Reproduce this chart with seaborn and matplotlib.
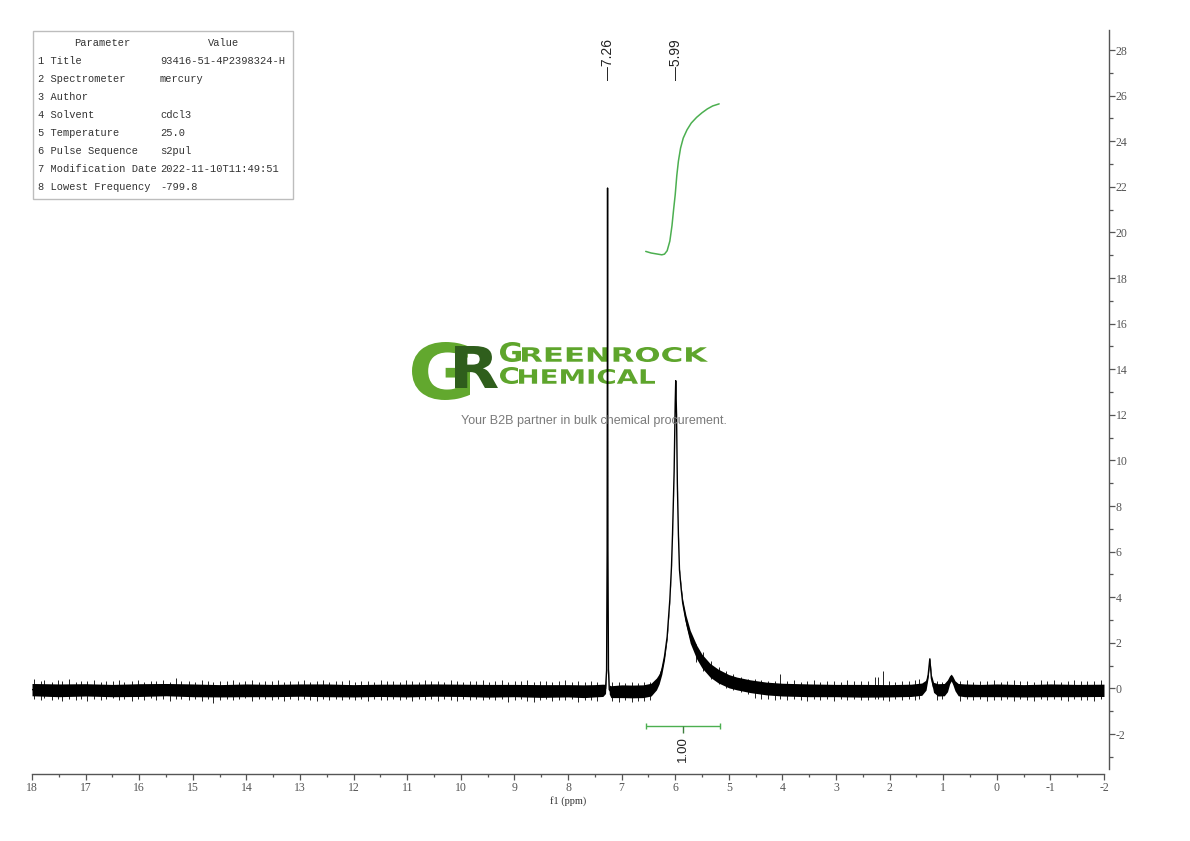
import matplotlib
matplotlib.use("Agg")
import matplotlib.pyplot as plt
from matplotlib.patches import Rectangle, PathPatch
from matplotlib.textpath import TextPath
from matplotlib.font_manager import FontProperties
from matplotlib.transforms import IdentityTransform, Affine2D
from matplotlib.ticker import MultipleLocator, FormatStrFormatter
import pandas as pd
import seaborn as sns

W, H = 1190, 841

# spectrum trace (ppm, centre intensity, half width of the noise band)
spec_ppm = [18.00, 17.50, 17.00, 16.50, 16.00, 15.50, 15.00, 14.50, 14.00, 13.50,
            13.00, 12.50, 12.00, 11.50, 11.00, 10.50, 10.00, 9.50, 9.00, 8.50,
            8.00, 7.70, 7.50, 7.35, 7.30, 7.28, 7.27, 7.262, 7.255, 7.245,
            7.23, 7.20, 7.00, 6.80, 6.60, 6.45, 6.35, 6.30, 6.25, 6.20,
            6.15, 6.10, 6.07, 6.05, 6.02, 6.00, 5.99, 5.975, 5.96, 5.94,
            5.92, 5.89, 5.86, 5.80, 5.72, 5.60, 5.50, 5.35, 5.20, 5.00,
            4.85, 4.60, 4.30, 4.00, 3.50, 3.00, 2.50, 2.00, 1.60, 1.40,
            1.32, 1.28, 1.25, 1.22, 1.18, 1.10, 0.98, 0.92, 0.88, 0.85,
            0.82, 0.78, 0.72, 0.60, 0.30, 0.00, -0.50, -1.00, -1.50, -2.00]
spec_y = [-0.05, -0.08, -0.06, -0.09, -0.07, -0.05, -0.08, -0.10, -0.08, -0.09,
          -0.07, -0.08, -0.10, -0.08, -0.09, -0.07, -0.08, -0.10, -0.09, -0.11,
          -0.10, -0.12, -0.10, -0.08, -0.02, 0.80, 6.00, 21.95, 6.00, 0.80,
          -0.05, -0.14, -0.12, -0.13, -0.12, -0.05, 0.20, 0.42, 0.80, 1.40,
          2.27, 3.90, 5.30, 6.75, 9.50, 12.50, 13.50, 12.00, 9.00, 6.75,
          5.20, 4.40, 3.75, 3.00, 2.27, 1.60, 1.20, 0.80, 0.55, 0.32,
          0.22, 0.10, 0.00, -0.05, -0.08, -0.09, -0.10, -0.10, -0.08, -0.03,
          0.15, 0.60, 1.30, 0.45, 0.05, -0.06, -0.05, 0.12, 0.38, 0.48,
          0.35, 0.12, -0.05, -0.08, -0.09, -0.08, -0.10, -0.08, -0.09, -0.08]
spec_hw = [0.27, 0.28, 0.27, 0.27, 0.28, 0.27, 0.28, 0.27, 0.28, 0.27,
           0.27, 0.28, 0.27, 0.27, 0.28, 0.27, 0.27, 0.28, 0.27, 0.28,
           0.27, 0.28, 0.27, 0.27, 0.20, 0.10, 0.04, 0.02, 0.04, 0.10,
           0.20, 0.26, 0.28, 0.28, 0.28, 0.28, 0.26, 0.22, 0.18, 0.15,
           0.10, 0.06, 0.05, 0.04, 0.04, 0.03, 0.03, 0.03, 0.04, 0.05,
           0.06, 0.10, 0.15, 0.22, 0.28, 0.30, 0.30, 0.30, 0.30, 0.29,
           0.28, 0.28, 0.28, 0.28, 0.28, 0.27, 0.28, 0.27, 0.27, 0.27,
           0.22, 0.12, 0.06, 0.15, 0.22, 0.27, 0.27, 0.26, 0.18, 0.15,
           0.18, 0.22, 0.27, 0.28, 0.27, 0.28, 0.27, 0.28, 0.27, 0.27]

# noise spikes sticking out of the band
spike_ppm = [17.96, 17.84, 17.77, 17.63, 17.51, 17.44, 17.31, 17.18, 17.09, 16.97,
             16.85, 16.71, 16.62, 16.49, 16.37, 16.28, 16.14, 16.03, 15.91, 15.78,
             15.69, 15.55, 15.43, 15.31, 15.22, 15.08, 14.96, 14.83, 14.71, 14.62,
             14.49, 14.36, 14.25, 14.13, 14.02, 13.89, 13.77, 13.66, 13.52, 13.41,
             13.29, 13.18, 13.04, 12.93, 12.81, 12.68, 12.57, 12.45, 12.33, 12.21,
             12.09, 11.97, 11.86, 11.73, 11.62, 11.49, 11.38, 11.26, 11.13, 11.02,
             10.91, 10.78, 10.66, 10.55, 10.42, 10.31, 10.19, 10.07, 9.95, 9.83,
             9.71, 9.59, 9.47, 9.36, 9.23, 9.12, 8.99, 8.88, 8.76, 8.64,
             8.52, 8.41, 8.29, 8.17, 8.05, 7.93, 7.81, 7.69, 7.57, 7.45,
             7.18, 7.05, 6.93, 6.81, 6.70, 6.58, 6.47, 5.62, 5.48, 5.33,
             5.19, 5.05, 4.92, 4.78, 4.65, 4.52, 4.39, 4.26, 4.14, 4.04,
             3.91, 3.79, 3.66, 3.54, 3.41, 3.29, 3.16, 3.04, 2.91, 2.79,
             2.66, 2.54, 2.41, 2.27, 2.22, 2.13, 2.01, 1.89, 1.76, 1.64,
             1.52, 1.45, 1.12, 1.02, 0.68, 0.56, 0.44, 0.31, 0.19, 0.06,
             -0.07, -0.19, -0.32, -0.44, -0.57, -0.69, -0.82, -0.94, -1.07, -1.19,
             -1.32, -1.44, -1.57, -1.69, -1.82, -1.94]
spike_top = [0.42, 0.31, 0.38, 0.29, 0.36, 0.33, 0.40, 0.30, 0.35, 0.32,
             0.37, 0.29, 0.34, 0.31, 0.39, 0.30, 0.33, 0.36, 0.28, 0.35,
             0.32, 0.38, 0.30, 0.48, 0.31, 0.34, 0.29, 0.37, 0.32, 0.30,
             0.35, 0.31, 0.38, 0.29, 0.33, 0.36, 0.30, 0.34, 0.31, 0.37,
             0.29, 0.35, 0.32, 0.38, 0.30, 0.33, 0.36, 0.29, 0.34, 0.31,
             0.37, 0.30, 0.33, 0.35, 0.29, 0.38, 0.31, 0.34, 0.30, 0.36,
             0.32, 0.29, 0.37, 0.31, 0.34, 0.30, 0.36, 0.33, 0.29, 0.35,
             0.31, 0.38, 0.30, 0.33, 0.36, 0.29, 0.34, 0.31, 0.37, 0.30,
             0.33, 0.35, 0.29, 0.32, 0.36, 0.30, 0.34, 0.28, 0.31, 0.29,
             0.27, 0.30, 0.25, 0.28, 0.26, 0.29, 0.27, 1.95, 1.60, 1.20,
             0.95, 0.78, 0.62, 0.52, 0.42, 0.40, 0.36, 0.33, 0.35, 0.62,
             0.32, 0.36, 0.30, 0.34, 0.37, 0.29, 0.33, 0.35, 0.30, 0.36,
             0.31, 0.34, 0.32, 0.52, 0.50, 0.76, 0.33, 0.30, 0.35, 0.32,
             0.36, 0.40, 0.34, 0.30, 0.33, 0.37, 0.30, 0.35, 0.32, 0.38,
             0.30, 0.34, 0.37, 0.31, 0.35, 0.29, 0.38, 0.32, 0.36, 0.30,
             0.34, 0.37, 0.31, 0.35, 0.33, 0.38]
spike_bot = [-0.46, -0.52, -0.43, -0.50, -0.45, -0.55, -0.44, -0.49, -0.47, -0.53,
             -0.44, -0.50, -0.46, -0.42, -0.51, -0.47, -0.54, -0.45, -0.49, -0.43,
             -0.50, -0.46, -0.53, -0.44, -0.48, -0.51, -0.45, -0.56, -0.47, -0.62,
             -0.49, -0.45, -0.52, -0.47, -0.43, -0.55, -0.48, -0.46, -0.51, -0.44,
             -0.53, -0.47, -0.50, -0.45, -0.49, -0.56, -0.44, -0.51, -0.47, -0.52,
             -0.45, -0.50, -0.47, -0.54, -0.46, -0.49, -0.52, -0.44, -0.51, -0.48,
             -0.55, -0.46, -0.50, -0.47, -0.53, -0.45, -0.49, -0.57, -0.46, -0.51,
             -0.48, -0.52, -0.45, -0.50, -0.47, -0.58, -0.49, -0.46, -0.53, -0.60,
             -0.50, -0.47, -0.54, -0.49, -0.52, -0.48, -0.59, -0.51, -0.49, -0.53,
             -0.55, -0.58, -0.52, -0.60, -0.54, -0.57, -0.50, 1.15, 0.75, 0.40,
             0.18, 0.02, -0.08, -0.16, -0.25, -0.40, -0.46, -0.44, -0.50, -0.47,
             -0.52, -0.46, -0.50, -0.55, -0.47, -0.51, -0.45, -0.53, -0.48, -0.50,
             -0.46, -0.52, -0.49, -0.45, -0.47, -0.50, -0.54, -0.48, -0.51, -0.46,
             -0.50, -0.45, -0.52, -0.48, -0.55, -0.47, -0.50, -0.46, -0.53, -0.49,
             -0.51, -0.47, -0.54, -0.46, -0.50, -0.55, -0.48, -0.52, -0.47, -0.50,
             -0.53, -0.46, -0.51, -0.49, -0.55, -0.47]

# integral curve and bar
int_ppm = [6.55, 6.45, 6.35, 6.25, 6.20, 6.15, 6.10, 6.06, 6.03, 6.00, 5.97,
           5.94, 5.90, 5.85, 5.78, 5.70, 5.60, 5.50, 5.40, 5.30, 5.18]
int_val = [19.17, 19.10, 19.06, 19.02, 19.05, 19.20, 19.62, 20.30, 21.00, 21.65, 22.50,
           23.13, 23.70, 24.14, 24.50, 24.80, 25.05, 25.25, 25.42, 25.55, 25.64]
int_range = [6.55, 5.16]
int_level = -1.65
int_centre = 5.85
int_label = "1.00"

peak_ppm = [7.26, 5.99]
peak_labels = ["7.26", "5.99"]

params = ["1 Title", "2 Spectrometer", "3 Author", "4 Solvent", "5 Temperature",
          "6 Pulse Sequence", "7 Modification Date", "8 Lowest Frequency"]
values = ["93416-51-4P2398324-H", "mercury", "", "cdcl3", "25.0", "s2pul",
          "2022-11-10T11:49:51", "-799.8"]

sns.set_theme(style="white")
plt.rcParams['font.family'] = ['Liberation Serif', 'DejaVu Sans']
plt.rcParams['axes.unicode_minus'] = False

fig = plt.figure(figsize=(W / 100, H / 100), dpi=100)
ax = fig.add_axes([32 / W, 67 / H, 1072 / W, 744 / H])
ax.patch.set_alpha(0)

green = '#4caf50'
axis_grey = '#555555'


def logo_text(s, box, color):
    # fit a text outline into a box given in image pixels (y down)
    x0, y0, x1, y1 = box
    tp = TextPath((0, 0), s, size=100, prop=FontProperties(family='DejaVu Sans', weight='bold'))
    ext = tp.get_extents()
    tr = Affine2D().translate(-ext.x0, -ext.y0).scale((x1 - x0) / ext.width, (y1 - y0) / ext.height)
    tr = tr.translate(x0, H - y1)
    patch = PathPatch(tr.transform_path(tp), facecolor=color, lw=0,
                      transform=IdentityTransform(), zorder=1, clip_on=False)
    ax.add_artist(patch)


# watermark logo
logo_text("G", (412, 342, 470, 400), '#62a82e')
logo_text("R", (455, 346, 498, 388), '#2f5e1c')
logo_text("G", (500, 342, 521, 362), '#5ea52c')
logo_text("REENROCK", (522, 347, 708, 362), '#5ea52c')
logo_text("C", (500, 367, 518, 384), '#5ea52c')
logo_text("HEMICAL", (519, 369, 655, 384), '#5ea52c')
fig.text(594 / W, 1 - 421 / H, "Your B2B partner in bulk chemical procurement.",
         ha='center', va='center', fontsize=9, color='#7a7a7a', family='Liberation Sans')

# spectrum
spec = pd.DataFrame({'ppm': spec_ppm, 'y': spec_y, 'hw': spec_hw})
ax.fill_between(spec['ppm'], spec['y'] - spec['hw'], spec['y'] + spec['hw'],
                color='black', lw=0, zorder=2)
sns.lineplot(data=spec, x='ppm', y='y', sort=False, estimator=None,
             color='black', lw=1.0, ax=ax, zorder=3)
ax.vlines(spike_ppm, spike_bot, spike_top, color='black', lw=0.6, zorder=3)

# integral
sns.lineplot(x=int_ppm, y=int_val, sort=False, estimator=None, color=green, lw=1.1, ax=ax, zorder=3)
ax.hlines(int_level, int_range[0], int_range[1], color=green, lw=1.0)
ax.vlines(int_range, int_level - 0.13, int_level + 0.13, color=green, lw=1.0)
ax.vlines(int_centre, int_level, int_level - 0.28, color='#3f7f3f', lw=1.0)
ax.text(int_centre, -2.1, int_label, rotation=90, ha='center', va='top',
        fontsize=9.5, family='Liberation Sans', color='#222222')

for p, lab in zip(peak_ppm, peak_labels):
    ax.text(p, 26.7, "\u2014" + lab, rotation=90, ha='center', va='bottom',
            fontsize=10, family='Liberation Sans', color='#222222')

# axes styling
ax.set_xlim(18, -2)
ax.set_ylim(-3.75, 28.88)
ax.xaxis.set_major_locator(MultipleLocator(1))
ax.xaxis.set_minor_locator(MultipleLocator(0.5))
ax.xaxis.set_major_formatter(FormatStrFormatter('%d'))
ax.yaxis.tick_right()
ax.yaxis.set_major_locator(MultipleLocator(2))
ax.yaxis.set_minor_locator(MultipleLocator(1))
ax.yaxis.set_major_formatter(FormatStrFormatter('%d'))
for side in ['left', 'top']:
    ax.spines[side].set_visible(False)
for side in ['bottom', 'right']:
    ax.spines[side].set_color(axis_grey)
    ax.spines[side].set_linewidth(1.0)
ax.spines['right'].set_visible(True)
ax.spines['right'].set_position(('outward', 3.6))
ax.spines['right'].set_bounds(-3.55, 28.88)
ax.tick_params(axis='x', which='both', direction='out', color=axis_grey, width=0.9,
               labelsize=8.5, labelcolor=axis_grey, pad=2, bottom=True)
ax.tick_params(axis='x', which='major', length=4)
ax.tick_params(axis='x', which='minor', length=2.5)
ax.tick_params(axis='y', which='both', direction='out', color=axis_grey, width=0.9,
               labelsize=8.5, labelcolor=axis_grey, pad=0.5, right=True, left=False)
ax.tick_params(axis='y', which='major', length=4.3)
ax.tick_params(axis='y', which='minor', length=2.6)
ax.set_xlabel("f1 (ppm)", fontsize=7.5, labelpad=1, color='#333333')
ax.set_ylabel("")

# parameter table
fig.add_artist(Rectangle((33, H - 199), 260, 168, transform=IdentityTransform(),
                         facecolor='white', edgecolor='#bdbdbd', lw=1.0, zorder=4))
mono = dict(fontsize=7.5, family='Liberation Mono', color='#333333', va='center', zorder=5)
fig.text(102 / W, 1 - 43 / H, "Parameter", ha='center', **mono)
fig.text(224 / W, 1 - 43 / H, "Value", ha='center', **mono)
for i, (p, v) in enumerate(zip(params, values)):
    y = 1 - (61.3 + i * 17.9) / H
    fig.text(38 / W, y, p, ha='left', **mono)
    fig.text(160 / W, y, v, ha='left', **mono)

fig.savefig("out.png", dpi=100)
